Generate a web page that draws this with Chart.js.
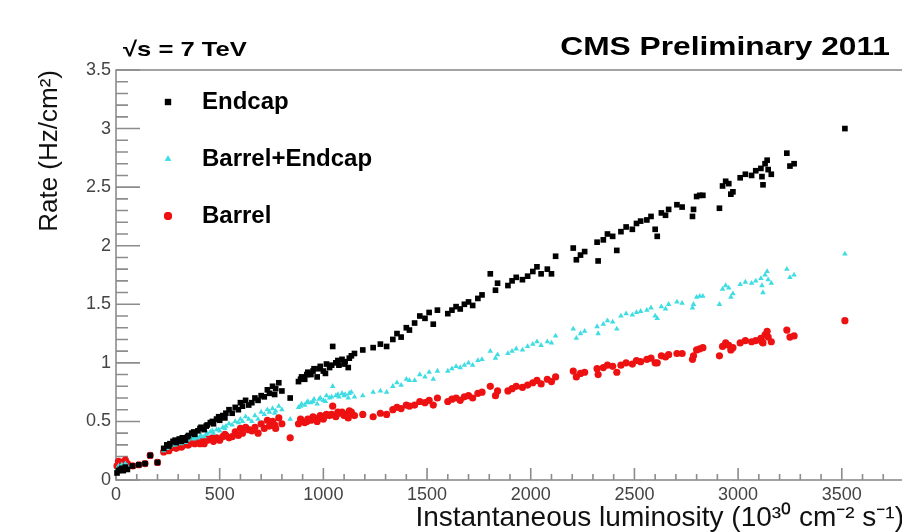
<!DOCTYPE html>
<html>
<head>
<meta charset="utf-8">
<title>CMS Preliminary 2011 - Rate vs luminosity</title>
<script src="https://cdn.jsdelivr.net/npm/chart.js"></script>
<style>
  body { margin: 0; overflow: hidden; background: #fff; }
</style>
</head>
<body>
<canvas id="chart" width="930" height="532"></canvas>
<script>
// luminosity (10^30 cm^-2 s^-1), one entry per lumi section
const lumi = [5,12,20,28,35,45,55,80,110,140,165,200,
  230,245,255,260,275,285,290,305,315,320,335,345,350,365,375,380,395,405,410,425,
  435,440,455,465,470,485,495,500,515,525,530,545,560,575,590,600,610,625,640,655,
  670,685,700,715,730,740,755,765,770,785,800,840,880,890,895,910,920,925,940,950,
  955,970,980,985,1000,1010,1015,1030,1040,1045,1060,1070,1075,1090,1100,1105,1120,1125,1135,
  1150,1190,1240,1275,1305,1335,1355,1375,1400,1415,1440,1465,1490,1510,1530,1550,
  1600,1620,1640,1660,1680,1700,1720,1745,1765,1805,1830,1840,
  1890,1910,1930,1960,1985,2010,2030,2050,2080,2100,2120,2205,2220,2240,2260,
  2320,2325,2350,2370,2395,2415,2435,2460,2490,2510,2530,
  2560,2580,2600,2610,2630,2650,2665,2705,2730,2780,2785,2800,2815,2830,
  2910,2925,2940,2955,2965,2975,3010,3035,3065,
  3085,3110,3115,3120,3130,3140,3145,3160,3235,3250,3270,3515];

// rates (Hz/cm^2)
const endcap = [0.06,0.08,0.09,0.10,0.08,0.11,0.09,0.12,0.13,0.14,0.21,0.15,
  0.27,0.30,0.29,0.31,0.33,0.34,0.32,0.35,0.33,0.36,0.34,0.37,0.38,0.40,0.41,0.39,0.42,0.44,0.45,0.43,
  0.46,0.47,0.49,0.50,0.48,0.52,0.54,0.51,0.55,0.53,0.57,0.60,0.57,0.62,0.60,0.66,0.63,0.68,0.64,0.66,
  0.70,0.68,0.72,0.71,0.77,0.74,0.80,0.73,0.78,0.83,0.76,0.70,0.84,0.86,0.88,0.86,0.90,0.92,0.90,0.93,
  0.95,0.88,0.95,0.97,0.93,0.91,0.99,0.96,0.98,1.14,1.00,1.02,0.98,1.03,0.99,1.01,0.96,1.04,1.06,
  1.08,1.11,1.13,1.16,1.14,1.20,1.25,1.22,1.30,1.28,1.34,1.40,1.38,1.43,1.33,1.45,
  1.42,1.45,1.48,1.46,1.50,1.52,1.49,1.55,1.58,1.76,1.62,1.68,
  1.66,1.70,1.73,1.71,1.74,1.78,1.82,1.76,1.80,1.76,1.91,1.98,1.88,1.92,1.95,
  2.03,1.87,2.05,2.10,2.08,1.96,2.12,2.16,2.14,2.19,2.21,
  2.22,2.25,2.14,2.08,2.28,2.26,2.31,2.35,2.33,2.25,2.31,2.42,2.43,2.43,
  2.32,2.51,2.55,2.53,2.44,2.46,2.58,2.61,2.60,
  2.64,2.66,2.59,2.52,2.70,2.73,2.65,2.61,2.79,2.68,2.70,3.00];

const barrelEndcap = [0.09,0.12,0.11,0.13,0.10,0.14,0.12,0.12,0.13,0.14,0.21,0.15,
  0.25,0.27,0.28,0.29,0.30,0.30,0.31,0.32,0.31,0.33,0.32,0.34,0.35,0.36,0.35,0.36,0.36,0.37,0.38,0.37,
  0.39,0.40,0.41,0.42,0.40,0.43,0.43,0.42,0.45,0.44,0.46,0.48,0.47,0.50,0.49,0.52,0.50,0.54,0.52,0.50,
  0.55,0.52,0.58,0.56,0.60,0.58,0.61,0.57,0.59,0.63,0.60,0.52,0.62,0.63,0.65,0.64,0.66,0.67,0.66,0.67,
  0.69,0.65,0.69,0.70,0.68,0.67,0.72,0.70,0.71,0.80,0.72,0.73,0.71,0.74,0.72,0.73,0.70,0.74,0.75,
  0.71,0.72,0.75,0.76,0.75,0.80,0.83,0.81,0.86,0.85,0.85,0.90,0.88,0.92,0.86,0.93,
  0.93,0.95,0.97,0.96,0.98,1.00,0.98,1.02,1.03,1.10,1.04,1.07,
  1.08,1.10,1.12,1.11,1.14,1.16,1.18,1.15,1.18,1.17,1.23,1.29,1.21,1.25,1.27,
  1.31,1.25,1.33,1.36,1.35,1.29,1.40,1.42,1.41,1.43,1.44,
  1.45,1.47,1.40,1.38,1.48,1.46,1.50,1.52,1.51,1.47,1.50,1.56,1.57,1.57,
  1.50,1.63,1.66,1.64,1.56,1.59,1.67,1.69,1.68,
  1.70,1.72,1.66,1.60,1.75,1.78,1.71,1.68,1.80,1.73,1.75,1.93];

const barrel = [0.12,0.16,0.13,0.15,0.10,0.17,0.14,0.12,0.13,0.14,0.21,0.15,
  0.24,0.26,0.25,0.27,0.28,0.29,0.27,0.30,0.28,0.29,0.31,0.30,0.30,0.32,0.33,0.31,0.32,0.31,0.33,0.31,
  0.35,0.34,0.35,0.36,0.33,0.36,0.35,0.34,0.37,0.39,0.38,0.36,0.37,0.41,0.38,0.44,0.40,0.45,0.43,0.42,
  0.45,0.40,0.48,0.44,0.51,0.46,0.50,0.47,0.44,0.53,0.48,0.36,0.48,0.52,0.50,0.49,0.50,0.52,0.51,0.54,
  0.53,0.50,0.53,0.55,0.52,0.55,0.56,0.55,0.56,0.63,0.54,0.58,0.57,0.58,0.55,0.56,0.53,0.59,0.58,
  0.55,0.56,0.54,0.57,0.56,0.60,0.62,0.61,0.64,0.63,0.64,0.67,0.66,0.68,0.64,0.70,
  0.67,0.69,0.70,0.68,0.71,0.72,0.70,0.74,0.75,0.80,0.72,0.76,
  0.76,0.78,0.80,0.79,0.81,0.83,0.85,0.82,0.86,0.84,0.88,0.93,0.88,0.91,0.92,
  0.95,0.90,0.96,0.98,0.97,0.92,0.98,1.00,0.99,1.02,1.01,
  1.03,1.04,1.00,1.00,1.06,1.05,1.07,1.08,1.08,1.03,1.06,1.11,1.12,1.13,
  1.06,1.14,1.17,1.15,1.11,1.13,1.17,1.19,1.18,
  1.19,1.21,1.18,1.17,1.24,1.27,1.22,1.18,1.28,1.22,1.23,1.36];

const seriesNames = ['Endcap', 'Barrel+Endcap', 'Barrel'];
const xTicks = [0, 500, 1000, 1500, 2000, 2500, 3000, 3500];
const yTicks = [0, 0.5, 1, 1.5, 2, 2.5, 3, 3.5];

const FONT = "'Liberation Sans', Arial, Helvetica, sans-serif";
const AXIS = '#8c8c8c';
const colors = ['#000000', '#3fdde3', '#ee1111'];
const styles = ['rect', 'triangle', 'circle'];
const radii = [4, 3.2, 3.6];

// wide bold label like the original (stretched horizontally)
function wideText(ctx, text, x, y, size, align) {
  ctx.save();
  ctx.font = 'bold ' + size + 'px ' + FONT;
  ctx.textAlign = align;
  ctx.textBaseline = 'middle';
  ctx.translate(x, y);
  ctx.scale(1.22, 1);
  ctx.fillText(text, 0, 0);
  ctx.restore();
}

// ROOT style frame with inner ticks, header and legend
const rootFrame = {
  id: 'rootFrame',
  beforeDatasetsDraw(chart) {
    const {ctx, chartArea: a, scales: {x, y}} = chart;
    ctx.save();
    ctx.strokeStyle = AXIS;
    ctx.lineWidth = 1.6;
    ctx.strokeRect(a.left, a.top, a.right - a.left, a.bottom - a.top);
    ctx.beginPath();
    for (let v = 0; v <= x.max; v += 100) {
      const px = x.getPixelForValue(v);
      ctx.moveTo(px, a.bottom);
      ctx.lineTo(px, a.bottom - (v % 500 === 0 ? 12 : 6));
    }
    for (let i = 0; i <= 35; i++) {
      const py = y.getPixelForValue(i / 10);
      ctx.moveTo(a.left, py);
      ctx.lineTo(a.left + (i % 5 === 0 ? 24 : 12), py);
    }
    ctx.stroke();
    ctx.restore();
  },
  afterDraw(chart) {
    const {ctx} = chart;
    ctx.fillStyle = '#000';
    wideText(ctx, '\u221As = 7 TeV', 123, 50, 21, 'left');
    wideText(ctx, 'CMS Preliminary 2011', 890, 47.5, 26, 'right');
    ctx.save();
    const rows = [102, 159, 216];
    ctx.font = 'bold 24px ' + FONT;
    ctx.textAlign = 'left';
    ctx.textBaseline = 'middle';
    seriesNames.forEach((name, i) => {
      ctx.fillStyle = colors[i];
      Chart.helpers.drawPoint(ctx, {pointStyle: styles[i], radius: radii[i] + 0.4, borderWidth: 0}, 168, rows[i]);
      ctx.fill();
      ctx.fillStyle = '#000';
      ctx.fillText(name, 202, rows[i]);
    });
    ctx.restore();
  }
};

const datasets = [endcap, barrelEndcap, barrel].map((vals, i) => ({
  label: seriesNames[i],
  data: lumi.map((l, j) => ({x: l, y: vals[j]})),
  pointStyle: styles[i],
  pointRadius: radii[i],
  pointBackgroundColor: colors[i],
  pointBorderWidth: 0,
  showLine: false,
  clip: false
}));

new Chart(document.getElementById('chart'), {
  type: 'scatter',
  data: {datasets},
  options: {
    responsive: false,
    animation: false,
    layout: {padding: {left: 0, top: 70, right: 26, bottom: 0}},
    plugins: {legend: {display: false}, tooltip: {enabled: false}},
    scales: {
      x: {
        type: 'linear', min: 0, max: 3800,
        grid: {display: false, drawTicks: false},
        border: {display: false},
        afterFit: s => { s.height = 52; },
        afterBuildTicks: s => { s.ticks = xTicks.map(v => ({value: v})); },
        ticks: {padding: 4, color: '#444', font: {family: FONT, size: 18}, maxRotation: 0,
          callback: v => String(v)},
        title: {display: true, align: 'end', text: 'Instantaneous luminosity (10\u00B3\u2070 cm\u207B\u00B2 s\u207B\u00B9)',
          color: '#111', font: {family: FONT, size: 28}, padding: {top: 0, bottom: -3}}
      },
      y: {
        min: 0, max: 3.5,
        grid: {display: false, drawTicks: false},
        border: {display: false},
        afterFit: s => { s.width = 116; },
        afterBuildTicks: s => { s.ticks = yTicks.map(v => ({value: v})); },
        ticks: {padding: 5, color: '#444', font: {family: FONT, size: 18},
          callback: v => String(v)},
        title: {display: true, align: 'end', text: 'Rate (Hz/cm\u00B2)',
          color: '#111', font: {family: FONT, size: 26}, padding: {top: 34, bottom: 0}}
      }
    }
  },
  plugins: [rootFrame]
});
</script>
</body>
</html>
